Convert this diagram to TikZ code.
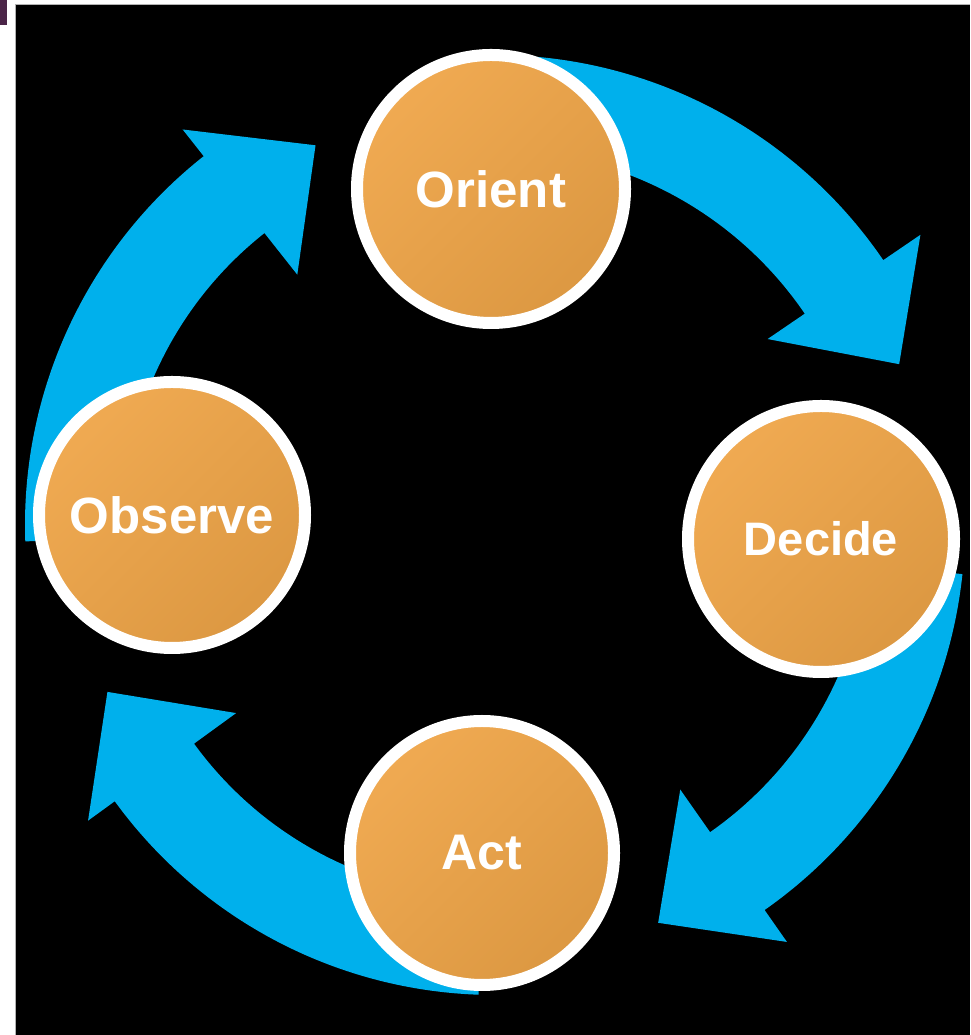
\documentclass[tikz,border=0pt]{standalone}
\usepackage{fontspec}
\setmainfont{Liberation Sans}
\definecolor{bandcyan}{RGB}{0,176,236}
\definecolor{orangeA}{RGB}{240,170,82}
\definecolor{orangeB}{RGB}{220,152,66}
\definecolor{markpurple}{RGB}{75,37,72}
\tikzset{
  band/.style={fill=bandcyan},
  stage/.style={circle, draw=white, line width=12pt, shading=axis,
    left color=orangeA, right color=orangeB, shading angle=45,
    text=white, font=\bfseries, inner sep=0pt},
}
\begin{document}
\begin{tikzpicture}[x=1pt,y=1pt]
\useasboundingbox (0,0) rectangle (970,1035);
\fill[white] (0,0) rectangle (970,1035);
\fill[markpurple] (0,1010) rectangle (7,1035);
\fill[black] (15,0) rectangle (970,1030);
\draw[gray!60, line width=1pt] (15,0) -- (15,1030) -- (970,1030);
\coordinate (C) at (495,510);
\begin{scope}[shift={(C)}]
% Orient -> Decide
\fill[band] (93:470) arc[start angle=93, end angle=34.3, radius=470]
  -- (34.3:515) -- (21.7:435) -- (34.3:330) -- (34.3:375)
  arc[start angle=34.3, end angle=93, radius=375] -- cycle;
% Decide -> Act
\fill[band] (-6:470) arc[start angle=-6, end angle=-55, radius=470]
  -- (-55:509) -- (-67.7:430) -- (-55:323) -- (-55:375)
  arc[start angle=-55, end angle=-6, radius=375] -- cycle;
% Act -> Observe
\fill[band] (-92:470) arc[start angle=-92, end angle=-144, radius=470]
  -- (-144:503) -- (-156.7:422) -- (-144:320) -- (-144:372)
  arc[start angle=-144, end angle=-92, radius=372] -- cycle;
% Observe -> Orient
\fill[band] (182:470) arc[start angle=182, end angle=128.3, radius=470]
  -- (128.3:504) -- (115.3:420) -- (128.3:319) -- (128.3:372)
  arc[start angle=128.3, end angle=182, radius=372] -- cycle;
\end{scope}
\node[stage, minimum size=268pt, font=\bfseries\fontsize{51}{60}\selectfont] (orient) at (491,846) {Orient};
\node[stage, minimum size=266pt, font=\bfseries\fontsize{47}{55}\selectfont] (decide) at (821,496) {Decide};
\node[stage, minimum size=266pt, font=\bfseries\fontsize{51}{60}\selectfont] (observe) at (172,520) {Observe};
\node[stage, minimum size=264pt, font=\bfseries\fontsize{50}{60}\selectfont] (act) at (482,182) {Act};
\end{tikzpicture}
\end{document}
